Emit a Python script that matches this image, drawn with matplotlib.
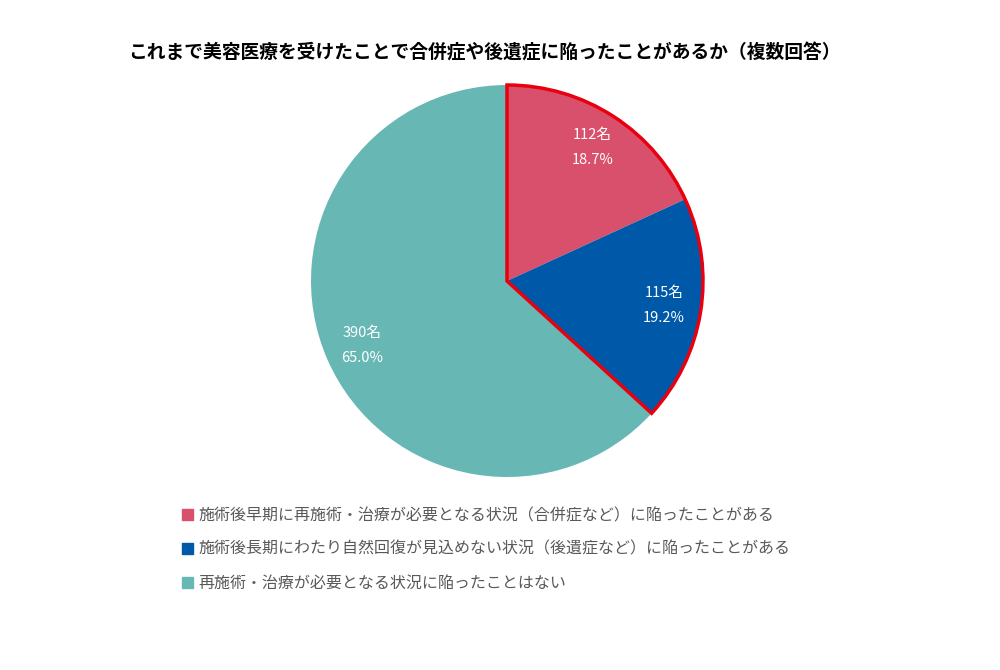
import matplotlib.pyplot as plt
from matplotlib.patches import Wedge

plt.rcParams['font.family'] = ['Noto Sans CJK JP', 'DejaVu Sans']

title = 'これまで美容医療を受けたことで合併症や後遺症に陥ったことがあるか（複数回答）'
categories = [
    '施術後早期に再施術・治療が必要となる状況（合併症など）に陥ったことがある',
    '施術後長期にわたり自然回復が見込めない状況（後遺症など）に陥ったことがある',
    '再施術・治療が必要となる状況に陥ったことはない',
]
counts = [112, 115, 390]
percents = ['18.7%', '19.2%', '65.0%']
colors = ['#D9506D', '#0058A8', '#67B8B5']

fig = plt.figure(figsize=(10, 6.7), dpi=100)
ax = fig.add_axes([0, 0, 1, 1])

cx, cy, r = 507, 670 - 281, 196
labels = [f'{c}名\n{p}' for c, p in zip(counts, percents)]
wedges, texts = ax.pie(counts, colors=colors, startangle=90, counterclock=False,
                       center=(cx, cy), radius=r, labels=labels, labeldistance=0.81,
                       textprops=dict(color='white', fontsize=10.5, linespacing=2.0),
                       frame=True)
ax.set_xlim(0, 1000)
ax.set_ylim(0, 670)
ax.set_aspect('equal')
ax.axis('off')
for t in texts:
    t.set_horizontalalignment('center')
    t.set_verticalalignment('center')

# red outline around the first two slices
ax.add_patch(Wedge((cx, cy), r, wedges[1].theta1, wedges[0].theta2,
                   fill=False, edgecolor='#E8000F', linewidth=2.5, zorder=5))

fig.text(0.128, 0.921, title, fontsize=13.5, fontweight='bold', color='black',
         va='center', ha='left')

handles = [plt.Rectangle((0, 0), 1, 1, color=c) for c in colors]
leg = fig.legend(handles, categories, loc='upper left', bbox_to_anchor=(0.182, 0.243),
                 frameon=False, fontsize=11.5, handlelength=0.7, handleheight=0.7,
                 handletextpad=0.3, labelspacing=1.05, borderpad=0, borderaxespad=0)
for t in leg.get_texts():
    t.set_color('#595959')

fig.savefig('out.png', dpi=100, facecolor='white')
